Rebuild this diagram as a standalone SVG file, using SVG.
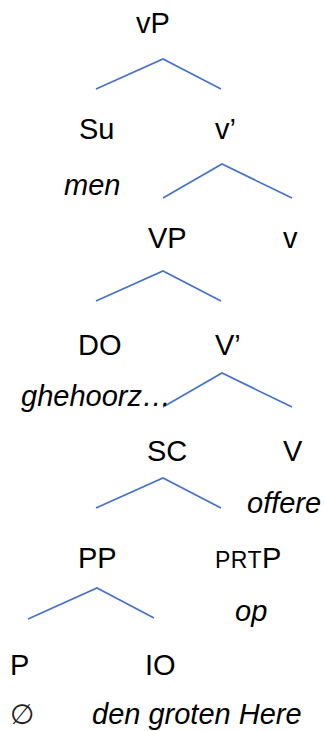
<svg xmlns="http://www.w3.org/2000/svg" width="324" height="731" viewBox="0 0 324 731">
<style>
text{font-family:"Liberation Sans",Arial,sans-serif;font-size:29px;fill:#000}
.it{font-style:italic}
.sc{font-size:23px;letter-spacing:0.5px}
.e{font-family:"DejaVu Sans","Liberation Sans",sans-serif;font-size:28px;fill:#222}
.br{fill:none;stroke:#4472C4;stroke-width:1.6}
</style>
<rect width="324" height="731" fill="#fff"/>
<g id="connectors">
<polyline class="br" points="96,89 163,59 221,89"/>
<polyline class="br" points="163,198 222,164 292,198"/>
<polyline class="br" points="96,301 163,271 221,301"/>
<polyline class="br" points="163,407 222,373 292,407"/>
<polyline class="br" points="96,508 163,478 221,508"/>
<polyline class="br" points="28,619 97,588 154,618"/>
</g>
<g id="vP"><text x="136" y="33">vP</text></g>
<g id="Su"><text x="79" y="139">Su</text><text class="it" x="64" y="195">men</text></g>
<g id="v1"><text x="215" y="139">v’</text></g>
<g id="VP"><text x="148" y="248">VP</text></g>
<g id="v"><text x="283" y="248">v</text></g>
<g id="DO"><text x="78" y="355">DO</text><text class="it" x="21" y="406">ghehoorz…</text></g>
<g id="V1"><text x="215" y="355">V’</text></g>
<g id="SC"><text x="147" y="461">SC</text></g>
<g id="V"><text x="283" y="461">V</text><text class="it" x="247" y="513">offere</text></g>
<g id="PP"><text x="78" y="568">PP</text></g>
<g id="PRTP"><text x="215" y="568"><tspan class="sc">PRT</tspan>P</text><text class="it" x="235" y="621">op</text></g>
<g id="P"><text x="10" y="675">P</text><text class="e" x="10" y="724">∅</text></g>
<g id="IO"><text x="145" y="675">IO</text><text class="it" x="92" y="724">den groten Here</text></g>
</svg>
